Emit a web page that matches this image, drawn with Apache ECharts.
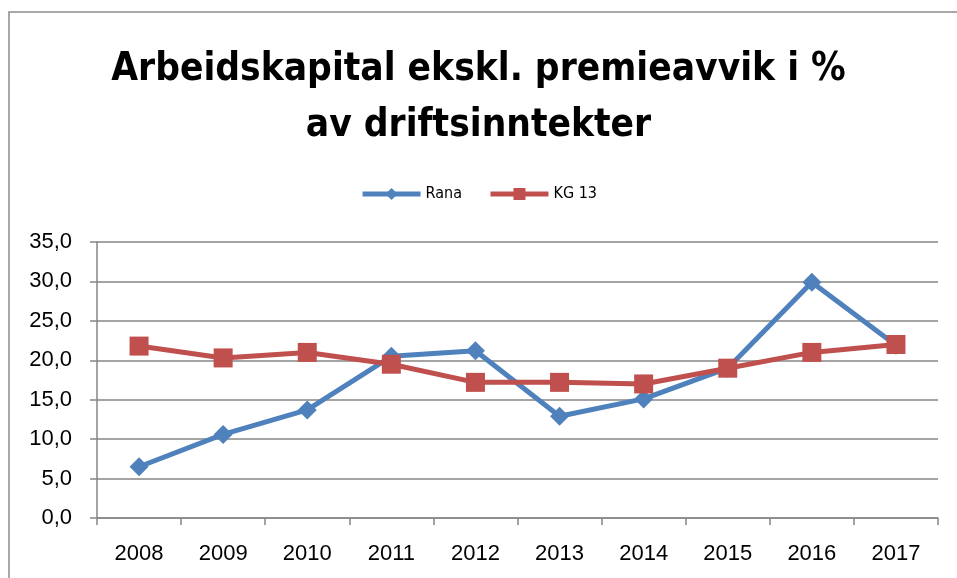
<!DOCTYPE html>
<html>
<head>
<meta charset="utf-8">
<script src="https://cdn.jsdelivr.net/npm/echarts@6/dist/echarts.min.js"></script>
<style>
  html, body { margin: 0; padding: 0; background: #fff; }
  #chart { width: 957px; height: 578px; }
</style>
</head>
<body>
<div id="chart"></div>
<script>
// data
const years = ['2008', '2009', '2010', '2011', '2012', '2013', '2014', '2015', '2016', '2017'];
const rana = [6.5, 10.6, 13.7, 20.5, 21.2, 12.9, 15.1, 19.0, 29.9, 21.9];
const kg13 = [21.8, 20.3, 21.0, 19.5, 17.2, 17.2, 17.0, 19.0, 21.0, 22.0];
const yTicks = { min: 0, max: 35, interval: 5 };

const axisGray = '#868686';
const narrow = "'DejaVu Sans Condensed', 'Liberation Sans', sans-serif";

let myChart = echarts.init(document.getElementById('chart'));
let option = {
    backgroundColor: '#fff',
    animation: false,
    graphic: [{
        type: 'rect',
        shape: { x: 9, y: 12, width: 960, height: 580 },
        style: { fill: 'none', stroke: '#8c8c8c', lineWidth: 1.5 },
        silent: true
    }],
    title: {
        text: 'Arbeidskapital ekskl. premieavvik i %\nav driftsinntekter',
        left: 'center',
        top: 37,
        padding: [5, 0, 5, 16],
        textStyle: {
            fontFamily: narrow,
            fontWeight: 'bold',
            fontSize: 38.5,
            lineHeight: 56,
            color: '#000'
        }
    },
    legend: {
        top: 181,
        left: 'center',
        padding: [5, 0, 5, 18],
        itemWidth: 58,
        itemHeight: 15,
        itemGap: 26,
        lineStyle: { width: 5 },
        textStyle: { fontFamily: narrow, fontSize: 16, color: '#000' },
        data: ['Rana', 'KG 13']
    },
    grid: { left: 97, right: 19, top: 242, bottom: 60 },
    xAxis: {
        type: 'category',
        data: years,
        boundaryGap: true,
        axisLine: { lineStyle: { color: axisGray, width: 1.5 } },
        axisTick: { show: true, length: 7, lineStyle: { color: axisGray, width: 1.5 } },
        axisLabel: { fontFamily: 'Liberation Sans', fontSize: 22, color: '#000', margin: 25 }
    },
    yAxis: {
        type: 'value',
        min: yTicks.min,
        max: yTicks.max,
        interval: yTicks.interval,
        axisLine: { show: true, lineStyle: { color: axisGray, width: 1.5 } },
        axisTick: { show: true, length: 7, lineStyle: { color: axisGray, width: 1.5 } },
        splitLine: { lineStyle: { color: axisGray, width: 1.5 } },
        axisLabel: {
            fontFamily: 'Liberation Sans', fontSize: 22, color: '#000', margin: 25,
            formatter: function (v) { return v.toFixed(1).replace('.', ','); }
        }
    },
    series: [
        {
            name: 'Rana',
            type: 'line',
            data: rana,
            symbol: 'diamond',
            symbolSize: 19,
            lineStyle: { color: '#4F81BD', width: 5 },
            itemStyle: { color: '#4F81BD' }
        },
        {
            name: 'KG 13',
            type: 'line',
            data: kg13,
            symbol: 'rect',
            symbolSize: 19,
            lineStyle: { color: '#C0504D', width: 5 },
            itemStyle: { color: '#C0504D' }
        }
    ]
};
myChart.setOption(option);
</script>
</body>
</html>
